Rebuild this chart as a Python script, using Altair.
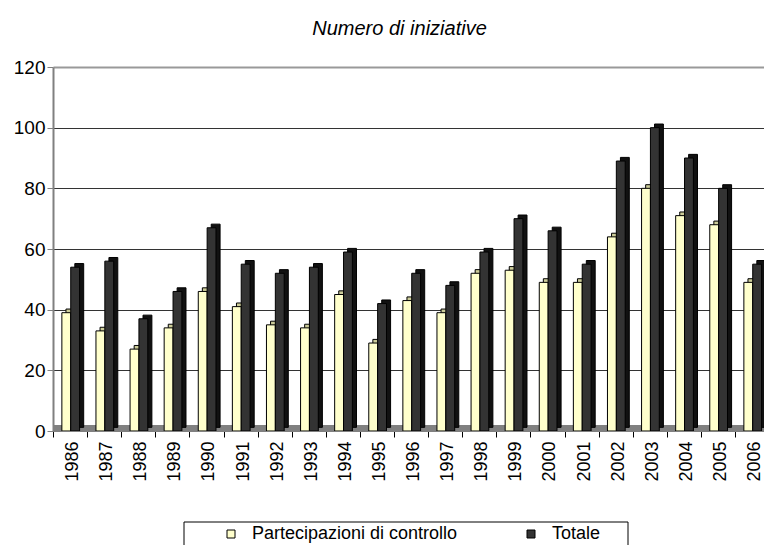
import altair as alt
import pandas as pd

years = list(range(1986, 2007))
partecipazioni = [39, 33, 27, 34, 46, 41, 35, 34, 45, 29, 43, 39, 52, 53, 49, 49, 64, 80, 71, 68, 49]
totale = [54, 56, 37, 46, 67, 55, 52, 54, 59, 42, 52, 48, 59, 70, 66, 55, 89, 100, 90, 80, 55]
series = ["Partecipazioni di controllo", "Totale"]
y_ticks = [0, 20, 40, 60, 80, 100, 120]

FONT = "Liberation Sans"
W, H = 711, 364
BAR_W = 0.26      # bar width in category units
DEPTH_X = 0.12    # 3D depth (x, category units)
DEPTH_Y = 1.2     # 3D depth (y, value units)
CAT_PX = 34.1
X_MIN = 1985.5
X_MAX = X_MIN + W / CAT_PX

df = pd.DataFrame({
    "anno": years * 2,
    "serie": [series[0]] * len(years) + [series[1]] * len(years),
    "valore": partecipazioni + totale,
    "pos": [0] * len(years) + [1] * len(years),
})

xscale = alt.Scale(domain=[X_MIN, X_MAX], nice=False, zero=False)
yscale = alt.Scale(domain=[0, 120], nice=False)

xaxis = alt.Axis(
    values=years, format="d", labelAngle=270, labelFontSize=18, labelFont=FONT,
    labelColor="black", tickSize=6, tickColor="#000000", tickOffset=-CAT_PX / 2,
    labelOffset=CAT_PX / 2 + 2.5, labelPadding=4, domainColor="#808080", domainWidth=1,
    grid=False, title=None, labelOverlap=False, labelFlush=False,
)
yaxis = alt.Axis(
    values=y_ticks, labelFontSize=19, labelFont=FONT, labelColor="black",
    tickSize=6, tickColor="#808080", labelPadding=2, domainColor="#808080",
    domainWidth=2, grid=True,
    gridColor={"condition": {"test": "datum.value === 120", "value": "#999999"}, "value": "#333333"},
    gridWidth={"condition": {"test": "datum.value === 120", "value": 2}, "value": 1},
    title=None,
)

color_scale = alt.Scale(domain=series, range=["#FFFFCC", "#333333"])
legend = alt.Legend(
    orient="none", legendX=169, legendY=458, direction="horizontal", title=None,
    symbolType="square", symbolSize=64, symbolStrokeColor="black", symbolStrokeWidth=1,
    labelFontSize=18, labelFont=FONT, labelColor="black", labelOffset=12,
    columnPadding=64, padding=0, symbolOpacity=1, labelLimit=400,
)


def bar_layer(idx, back, fill):
    ch = (
        alt.Chart(df)
        .transform_filter(alt.datum.pos == idx)
        .transform_calculate(
            x0=f"datum.anno - 0.24 + datum.pos * {BAR_W} + {DEPTH_X if back else 0}",
            x1=f"datum.anno - 0.24 + datum.pos * {BAR_W} + {BAR_W} + {DEPTH_X if back else 0}",
            y0=f"{DEPTH_Y if back else 0}",
            y1=f"datum.valore + {DEPTH_Y if back else 0}",
        )
    )
    enc = dict(
        x=alt.X("x0:Q", scale=xscale, axis=xaxis),
        x2="x1:Q",
        y=alt.Y("y0:Q", scale=yscale, axis=yaxis),
        y2="y1:Q",
    )
    if back:
        return ch.mark_rect(fill=fill, stroke="black", strokeWidth=1, clip=True).encode(**enc)
    return ch.mark_rect(stroke="black", strokeWidth=1, opacity=1, clip=True).encode(
        color=alt.Color("serie:N", scale=color_scale, legend=legend), **enc
    )


floor = (
    alt.Chart(pd.DataFrame({"k": [0]}))
    .mark_rect(color="#808080")
    .encode(
        x=alt.value(0), x2=alt.value(W),
        y=alt.YDatum(0, scale=yscale, axis=yaxis), y2=alt.datum(2),
    )
)

legend_box = (
    alt.Chart(pd.DataFrame({"k": [0]}))
    .mark_rect(fillOpacity=0, stroke="black", strokeWidth=1)
    .encode(x=alt.value(131), x2=alt.value(575), y=alt.value(455), y2=alt.value(520))
)

chart = (
    alt.layer(
        floor,
        bar_layer(0, True, "#CCCC99"),
        bar_layer(0, False, None),
        bar_layer(1, True, "#111111"),
        bar_layer(1, False, None),
        legend_box,
    )
    .properties(
        width=W, height=H,
        title=alt.TitleParams(
            "Numero di iniziative", font=FONT, fontSize=20, fontStyle="italic",
            fontWeight="normal", anchor="middle", color="black", offset=19, dx=-9,
        ),
        autosize=alt.AutoSizeParams(type="none"),
        padding={"left": 45, "top": 59, "right": 0, "bottom": 114},
        background="white",
    )
    .configure_view(strokeWidth=0)
)

chart.save("out.html", embed_options={"renderer": "svg", "actions": False})
